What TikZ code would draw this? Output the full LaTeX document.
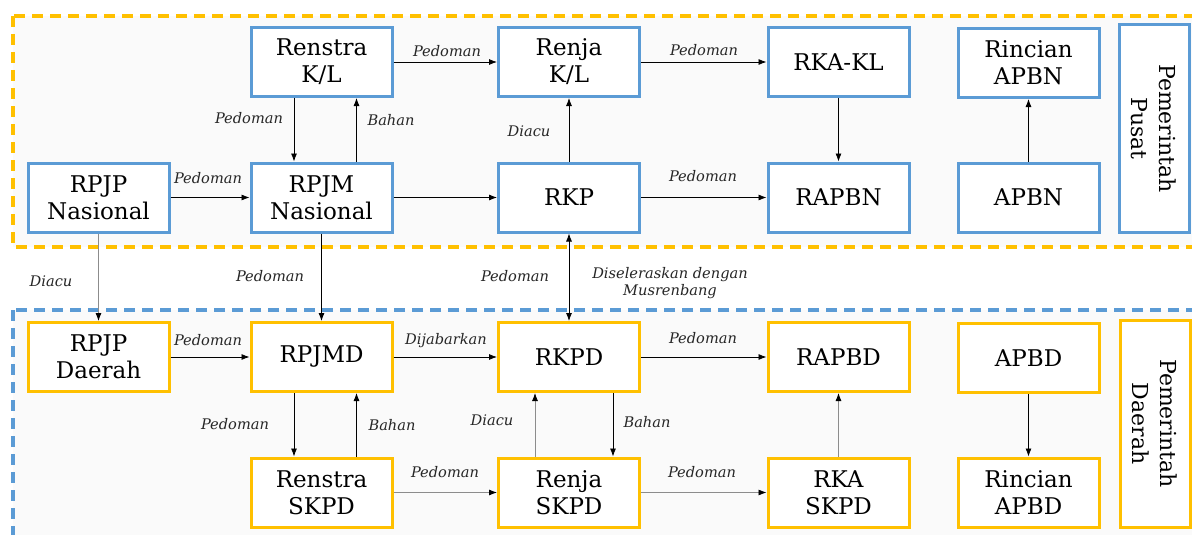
\documentclass[tikz,border=0pt]{standalone}
\usepackage{fontspec}
\setmainfont{DejaVu Serif}
\usetikzlibrary{arrows.meta}
\definecolor{bl}{HTML}{5B9BD5}
\definecolor{yl}{HTML}{FFC000}
\definecolor{bgc}{HTML}{FAFAFA}
\begin{document}
\begin{tikzpicture}[x=1pt,y=-1pt,
  box/.style={draw, line width=3pt, fill=white, minimum width=141pt, minimum height=69pt,
    inner sep=0pt, align=center, font=\fontsize{23}{27}\selectfont},
  pbox/.style={box, draw=bl},
  dbox/.style={box, draw=yl},
  sidebox/.style={draw, line width=3pt, fill=white, minimum width=207pt, minimum height=70pt,
    inner sep=0pt, align=center, rotate=-90, font=\fontsize{22}{28}\selectfont},
  lab/.style={font=\itshape\fontsize{14.6}{17}\selectfont, inner sep=0pt, anchor=base, text=black!85},
  arr/.style={-{Latex[length=8pt,width=6pt,black]}, line width=0.8pt},
  garr/.style={arr, draw=black!45},
  darr/.style={{Latex[length=8pt,width=6pt]}-{Latex[length=8pt,width=6pt]}, line width=0.8pt},
  zone/.style={line width=3.5pt, dash pattern=on 11pt off 7pt, fill=bgc}
]
\useasboundingbox (0,0) rectangle (1192,535);
\clip (0,0) rectangle (1192,535);
\fill[white] (0,0) rectangle (1192,535);
% zones
\draw[zone, draw=yl] (13,16) rectangle (1210,247);
\draw[zone, draw=bl] (13,310) rectangle (1210,560);

% Pemerintah Pusat
\node[pbox] (rkl)   at (321.5,62)   {Renstra\\K/L};
\node[pbox] (rjkl)  at (569,62)     {Renja\\K/L};
\node[pbox] (rkakl) at (838.5,62)   {RKA-KL};
\node[pbox] (rapbnr) at (1028.5,63) {Rincian\\APBN};
\node[pbox] (rpjpn) at (98.5,197.5) {RPJP\\Nasional};
\node[pbox] (rpjmn) at (321.5,197.5){RPJM\\Nasional};
\node[pbox] (rkp)   at (569,197.5)  {RKP};
\node[pbox] (rapbn) at (838.5,197.5){RAPBN};
\node[pbox] (apbn)  at (1028.5,197.5){APBN};
\node[sidebox, draw=bl] (pusat) at (1154,128.5) {Pemerintah\\Pusat};

% Pemerintah Daerah
\node[dbox] (rpjpd) at (98.5,357)   {RPJP\\Daerah};
\node[dbox] (rpjmd) at (321.5,357)  {RPJMD};
\node[dbox] (rkpd)  at (569,357)    {RKPD};
\node[dbox] (rapbd) at (838.5,357)  {RAPBD};
\node[dbox] (apbd)  at (1028.5,358) {APBD};
\node[dbox] (rsk)   at (321.5,492.5){Renstra\\SKPD};
\node[dbox] (rjsk)  at (569,492.5)  {Renja\\SKPD};
\node[dbox] (rkask) at (838.5,492.5){RKA\\SKPD};
\node[dbox] (rapbdr) at (1028.5,492.5){Rincian\\APBD};
\node[sidebox, draw=yl] (daerah) at (1155,423.5) {Pemerintah\\Daerah};

% connectors - pusat
\draw[arr] (rkl) -- (rjkl);
\draw[arr] (rjkl) -- (rkakl);
\draw[arr] ([xshift=-27.5pt]rkl.south) -- ([xshift=-27.5pt]rpjmn.north);
\draw[arr] ([xshift=35pt]rpjmn.north) -- ([xshift=35pt]rkl.south);
\draw[arr] (rpjpn) -- (rpjmn);
\draw[arr] (rpjmn) -- (rkp);
\draw[arr] (rkp) -- (rjkl);
\draw[arr] (rkp) -- (rapbn);
\draw[arr] (rkakl) -- (rapbn);
\draw[arr] (apbn) -- (rapbnr);

% between
\draw[garr] (rpjpn) -- (rpjpd);
\draw[arr] (rpjmn) -- (rpjmd);
\draw[darr] (rkp) -- (rkpd);

% connectors - daerah
\draw[arr] (rpjpd) -- (rpjmd);
\draw[arr] (rpjmd) -- (rkpd);
\draw[arr] (rkpd) -- (rapbd);
\draw[arr] ([xshift=-27.5pt]rpjmd.south) -- ([xshift=-27.5pt]rsk.north);
\draw[arr] ([xshift=35pt]rsk.north) -- ([xshift=35pt]rpjmd.south);
\draw[garr] (rsk) -- (rjsk);
\draw[garr] ([xshift=-34pt]rjsk.north) -- ([xshift=-34pt]rkpd.south);
\draw[arr] ([xshift=44pt]rkpd.south) -- ([xshift=44pt]rjsk.north);
\draw[garr] (rjsk) -- (rkask);
\draw[garr] (rkask) -- (rapbd);
\draw[arr] (apbd) -- (rapbdr);

% labels
\node[lab] (l1)  at (447,57)  {Pedoman};
\node[lab] (l2)  at (704,56)  {Pedoman};
\node[lab] (l3)  at (249,124) {Pedoman};
\node[lab] (l4)  at (391,125) {Bahan};
\node[lab] (l5)  at (529,136) {Diacu};
\node[lab] (l6)  at (208,183) {Pedoman};
\node[lab] (l7)  at (703,181) {Pedoman};
\node[lab] (l8)  at (51,286)  {Diacu};
\node[lab] (l9)  at (270,281) {Pedoman};
\node[lab] (l10) at (515,281) {Pedoman};
\node[lab, align=center] (l11) at (670,295) {Diseleraskan dengan\\Musrenbang};
\node[lab] (l12) at (208,345) {Pedoman};
\node[lab] (l13) at (446,344) {Dijabarkan};
\node[lab] (l14) at (703,343) {Pedoman};
\node[lab] (l15) at (235,429) {Pedoman};
\node[lab] (l16) at (392,430) {Bahan};
\node[lab] (l17) at (492,425) {Diacu};
\node[lab] (l18) at (647,427) {Bahan};
\node[lab] (l19) at (445,477) {Pedoman};
\node[lab] (l20) at (702,477) {Pedoman};
\end{tikzpicture}
\end{document}
